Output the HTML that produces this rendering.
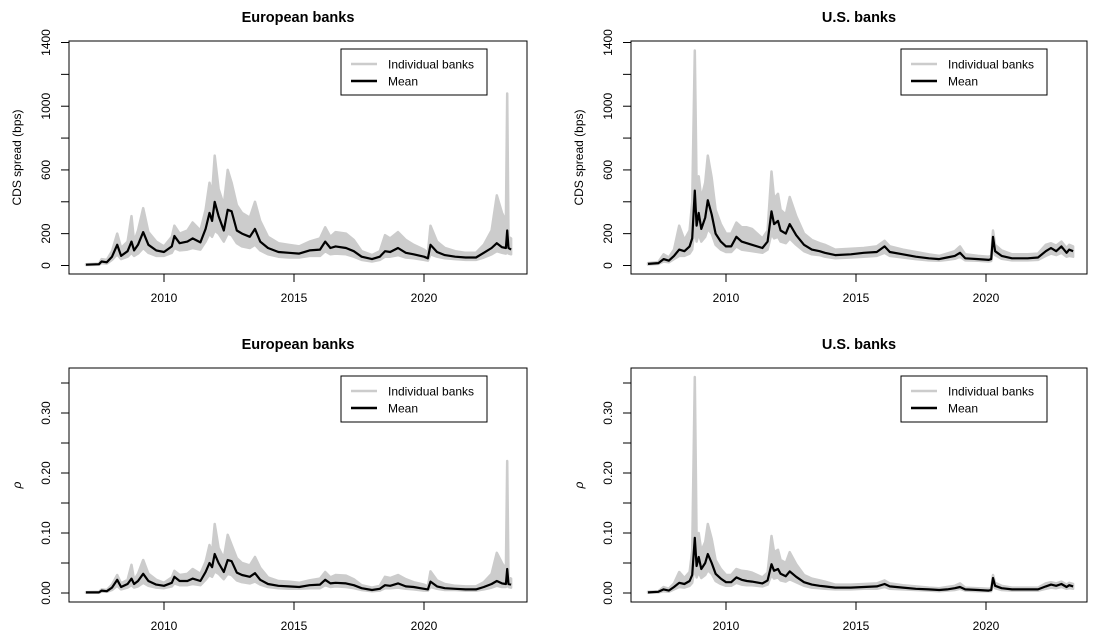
<!DOCTYPE html>
<html><head><meta charset="utf-8"><style>
body{margin:0;background:#fff;}
svg{display:block;font-family:"Liberation Sans",Arial,sans-serif;}
</style></head><body>
<svg id="chart" width="1095" height="639" viewBox="0 0 1095 639" xmlns="http://www.w3.org/2000/svg"></svg>
<script>
// ---------- European banks data ----------
const euDates = [2007.0,2007.5,2007.6,2007.8,2008.0,2008.2,2008.35,2008.6,2008.75,2008.85,2009.0,2009.2,2009.4,2009.7,2010.0,2010.3,2010.4,2010.6,2010.9,2011.1,2011.4,2011.6,2011.75,2011.85,2011.95,2012.1,2012.3,2012.45,2012.6,2012.8,2013.0,2013.3,2013.5,2013.7,2014.0,2014.4,2014.8,2015.2,2015.6,2016.0,2016.2,2016.4,2016.6,2017.0,2017.3,2017.6,2018.0,2018.3,2018.5,2018.7,2019.0,2019.3,2019.6,2020.0,2020.15,2020.25,2020.5,2020.8,2021.2,2021.6,2022.0,2022.3,2022.6,2022.8,2023.0,2023.15,2023.2,2023.25,2023.35];
const euCdsMean = [5,8,25,20,55,130,60,90,150,95,130,210,130,95,85,120,185,140,150,170,145,230,330,280,400,310,220,350,340,220,200,180,230,150,110,85,80,75,95,100,150,110,120,110,90,55,40,55,90,85,110,80,70,55,45,130,85,65,55,50,50,80,110,140,115,110,220,110,100];
const euCdsLo = [3,5,15,12,35,70,40,55,80,60,75,110,80,60,60,80,110,95,100,110,100,150,200,180,220,200,150,200,190,140,120,110,130,95,70,55,50,50,60,60,90,70,75,70,55,35,25,35,55,55,65,50,45,35,30,70,55,45,40,35,35,50,70,90,80,75,120,75,70];
const euCdsHi = [8,12,40,35,90,200,110,150,310,150,220,360,210,150,120,180,250,200,220,270,220,350,520,450,690,480,380,600,520,380,330,300,400,280,180,140,130,120,150,170,240,180,210,200,160,90,65,90,190,170,210,160,130,100,80,250,150,110,90,80,80,130,220,440,330,280,1080,180,170];
const euPMean = [0.001,0.001,0.004,0.003,0.009,0.022,0.01,0.015,0.024,0.015,0.02,0.032,0.02,0.014,0.012,0.017,0.027,0.02,0.02,0.024,0.02,0.035,0.05,0.043,0.065,0.05,0.035,0.055,0.053,0.034,0.03,0.027,0.033,0.022,0.015,0.012,0.011,0.01,0.013,0.014,0.022,0.016,0.017,0.016,0.013,0.008,0.005,0.007,0.013,0.012,0.016,0.011,0.01,0.007,0.006,0.019,0.011,0.008,0.007,0.006,0.006,0.01,0.015,0.02,0.016,0.015,0.04,0.015,0.014];
const euPLo = [0.0005,0.0006,0.002,0.002,0.005,0.012,0.006,0.009,0.013,0.009,0.011,0.017,0.012,0.009,0.008,0.011,0.016,0.013,0.013,0.015,0.013,0.022,0.03,0.027,0.036,0.032,0.023,0.032,0.03,0.021,0.018,0.016,0.019,0.014,0.01,0.008,0.007,0.007,0.008,0.008,0.013,0.01,0.011,0.01,0.008,0.005,0.003,0.004,0.008,0.008,0.009,0.007,0.006,0.004,0.004,0.01,0.007,0.005,0.005,0.004,0.004,0.006,0.009,0.012,0.01,0.01,0.02,0.01,0.009];
const euPHi = [0.0015,0.002,0.006,0.005,0.014,0.03,0.016,0.022,0.047,0.022,0.032,0.055,0.032,0.022,0.017,0.026,0.037,0.03,0.032,0.04,0.032,0.052,0.08,0.068,0.115,0.075,0.058,0.097,0.08,0.058,0.05,0.046,0.06,0.042,0.026,0.02,0.019,0.017,0.021,0.024,0.035,0.026,0.03,0.029,0.023,0.013,0.009,0.012,0.027,0.025,0.03,0.023,0.018,0.014,0.011,0.036,0.021,0.015,0.012,0.011,0.011,0.018,0.032,0.067,0.05,0.04,0.22,0.026,0.024];

// ---------- U.S. banks data ----------
const usDates = [2007.0,2007.4,2007.6,2007.8,2008.0,2008.2,2008.4,2008.6,2008.7,2008.8,2008.87,2008.95,2009.05,2009.2,2009.3,2009.45,2009.6,2009.8,2010.0,2010.2,2010.4,2010.6,2010.8,2011.0,2011.4,2011.6,2011.75,2011.85,2012.0,2012.1,2012.3,2012.45,2012.7,2013.0,2013.3,2013.6,2013.8,2014.2,2014.8,2015.3,2015.8,2016.1,2016.3,2016.8,2017.3,2017.8,2018.2,2018.5,2018.8,2019.0,2019.2,2019.7,2020.1,2020.2,2020.27,2020.35,2020.6,2021.0,2021.6,2022.0,2022.3,2022.5,2022.7,2022.9,2023.1,2023.2,2023.35];
const usCdsMean = [10,15,40,30,60,100,90,120,170,470,250,330,230,300,410,320,200,150,120,120,180,150,140,130,110,150,340,260,280,220,200,260,190,130,100,90,80,65,70,80,85,120,85,70,55,45,40,50,60,80,45,40,35,40,180,90,60,45,45,50,90,110,90,120,80,100,90];
const usCdsLo = [6,10,25,20,40,60,60,75,100,250,150,200,150,180,230,200,130,100,85,85,120,100,95,90,80,100,200,170,180,150,140,170,130,90,70,65,55,45,50,55,60,80,60,50,40,32,30,35,42,55,32,30,25,28,120,65,42,32,32,35,60,75,65,80,55,60,55];
const usCdsHi = [15,22,70,50,100,250,160,220,400,1350,500,560,420,520,690,550,350,260,200,200,270,240,240,230,170,220,590,420,450,350,320,430,310,200,160,140,130,100,105,110,120,155,120,100,85,70,60,75,90,120,70,60,55,60,220,130,95,70,70,75,130,140,125,150,110,130,120];
const usPMean = [0.001,0.002,0.006,0.004,0.01,0.017,0.015,0.02,0.03,0.092,0.045,0.06,0.04,0.05,0.065,0.05,0.032,0.024,0.018,0.018,0.026,0.022,0.02,0.019,0.016,0.021,0.048,0.037,0.04,0.032,0.028,0.036,0.027,0.018,0.014,0.012,0.011,0.009,0.009,0.01,0.011,0.015,0.011,0.009,0.007,0.006,0.005,0.006,0.008,0.01,0.006,0.005,0.004,0.005,0.025,0.012,0.008,0.006,0.006,0.006,0.011,0.014,0.012,0.015,0.01,0.013,0.011];
const usPLo = [0.0005,0.001,0.003,0.002,0.006,0.01,0.009,0.012,0.017,0.045,0.026,0.035,0.025,0.03,0.038,0.032,0.02,0.015,0.012,0.012,0.017,0.014,0.013,0.013,0.011,0.014,0.03,0.024,0.026,0.021,0.019,0.023,0.018,0.012,0.009,0.008,0.007,0.006,0.006,0.007,0.007,0.01,0.007,0.006,0.005,0.004,0.003,0.004,0.005,0.007,0.004,0.003,0.003,0.003,0.015,0.008,0.005,0.004,0.004,0.004,0.007,0.009,0.008,0.01,0.007,0.008,0.007];
const usPHi = [0.002,0.003,0.01,0.007,0.016,0.035,0.025,0.035,0.07,0.36,0.09,0.1,0.07,0.085,0.115,0.09,0.055,0.04,0.03,0.03,0.04,0.037,0.036,0.034,0.026,0.034,0.095,0.068,0.072,0.055,0.05,0.068,0.048,0.03,0.024,0.021,0.019,0.014,0.014,0.015,0.016,0.021,0.016,0.013,0.011,0.009,0.008,0.01,0.012,0.016,0.009,0.008,0.007,0.008,0.03,0.017,0.012,0.009,0.009,0.009,0.016,0.018,0.016,0.019,0.014,0.017,0.015];

// ---------- tick labels ----------
const xTicks = [2010,2015,2020];
const cdsTicks = [0,200,400,600,800,1000,1200,1400];
const cdsTickLabels = ["0","200","","600","","1000","","1400"];
const pTicks = [0,0.05,0.10,0.15,0.20,0.25,0.30,0.35];
const pTickLabels = ["0.00","","0.10","","0.20","","0.30",""];

const NS = "http://www.w3.org/2000/svg";
const svg = document.getElementById('chart');
function mk(tag, attrs, parent){
  const e = document.createElementNS(NS, tag);
  for (const k in attrs) e.setAttribute(k, attrs[k]);
  (parent||svg).appendChild(e);
  return e;
}

function panel(opt){
  const g = mk('g', {});
  
  
  const xs = t => opt.x2010 + (t - 2010) * 26;
  const ys = v => opt.y0 - v * opt.yk;
  // title
  const title = mk('text', {x:(opt.bx0+opt.bx1)/2, y:opt.by0-19, 'text-anchor':'middle', 'font-size':'14.5', 'font-weight':'bold'}, g);
  title.textContent = opt.title;
  
  
  // band
  const n = Math.min(opt.dates.length, opt.lo.length, opt.hi.length);
  let pts = [];
  for (let i=0;i<n;i++) pts.push(xs(opt.dates[i]).toFixed(1)+','+ys(opt.hi[i]).toFixed(1));
  for (let i=n-1;i>=0;i--) pts.push(xs(opt.dates[i]).toFixed(1)+','+ys(opt.lo[i]).toFixed(1));
  const band = mk('polygon', {points:pts.join(' '), fill:'#cccccc', stroke:'#cccccc', 'stroke-width':'2.5', 'stroke-linejoin':'round'}, g);
  
  
  // mean
  const m = Math.min(opt.dates.length, opt.mean.length);
  let mp = [];
  for (let i=0;i<m;i++) mp.push(xs(opt.dates[i]).toFixed(1)+','+ys(opt.mean[i]).toFixed(1));
  const ml = mk('polyline', {points:mp.join(' '), fill:'none', stroke:'#000', 'stroke-width':'2.2', 'stroke-linejoin':'round'}, g);
  
  
  // box
  const box = mk('rect', {x:opt.bx0, y:opt.by0, width:opt.bx1-opt.bx0, height:opt.by1-opt.by0, fill:'none', stroke:'#000', 'stroke-width':'1'}, g);
  
  
  // x ticks
  xTicks.forEach(t => {
    const x = xs(t);
    const tk = mk('line', {x1:x, x2:x, y1:opt.by1, y2:opt.by1+8, stroke:'#000'}, g);
    
    
    const tl = mk('text', {x:x, y:opt.by1+28, 'text-anchor':'middle', 'font-size':'12'}, g);
    tl.textContent = String(t);
    
    
  });
  // y ticks
  opt.yTicks.forEach((v,i) => {
    const y = ys(v);
    const tk = mk('line', {x1:opt.bx0-8, x2:opt.bx0, y1:y, y2:y, stroke:'#000'}, g);
    
    
    if (opt.yLabels[i]) {
      const lx = opt.bx0 - 19;
      const tl = mk('text', {x:lx, y:y, 'text-anchor':'middle', 'font-size':'12', transform:'rotate(-90 '+lx+' '+y+')'}, g);
      tl.textContent = opt.yLabels[i];
      
      
    }
  });
  // y title
  const tx = opt.bx0 - 48, ty = (opt.by0+opt.by1)/2;
  const yt = mk('text', {x:tx, y:ty, 'text-anchor':'middle', 'font-size':'12', transform:'rotate(-90 '+tx+' '+ty+')', 'font-style':opt.yItalic?'italic':'normal'}, g);
  yt.textContent = opt.yTitle;
  
  
  // legend
  const lx0 = opt.bx1 - 186, ly0 = opt.by0 + 8;
  const lg = mk('g', {}, g);
  
  
  mk('rect', {x:lx0, y:ly0, width:146, height:46, fill:'#fff', stroke:'#000'}, lg);
  mk('line', {x1:lx0+10, x2:lx0+36, y1:ly0+15, y2:ly0+15, stroke:'#cccccc', 'stroke-width':'2.5'}, lg);
  mk('line', {x1:lx0+10, x2:lx0+36, y1:ly0+32, y2:ly0+32, stroke:'#000', 'stroke-width':'2.5'}, lg);
  const t1 = mk('text', {x:lx0+47, y:ly0+19.5, 'font-size':'12'}, lg);
  t1.textContent = 'Individual banks';
  
  
  const t2 = mk('text', {x:lx0+47, y:ly0+36.5, 'font-size':'12'}, lg);
  t2.textContent = 'Mean';
  
  
}

const L = {bx0:69, bx1:527, x2010:164};
const R = {bx0:631, bx1:1087, x2010:726};
const T = {by0:41, by1:274, y0:265.5, yk:223/1400, yTicks:cdsTicks, yLabels:cdsTickLabels, yTitle:'CDS spread (bps)'};
const B = {by0:368, by1:602, y0:593, yk:600, yTicks:pTicks, yLabels:pTickLabels, yTitle:'ρ', yItalic:true};

panel(Object.assign({name:'panel-eu-cds', title:'European banks', dates:euDates, mean:euCdsMean, lo:euCdsLo, hi:euCdsHi}, L, T));
panel(Object.assign({name:'panel-us-cds', title:'U.S. banks', dates:usDates, mean:usCdsMean, lo:usCdsLo, hi:usCdsHi}, R, T));
panel(Object.assign({name:'panel-eu-rho', title:'European banks', dates:euDates, mean:euPMean, lo:euPLo, hi:euPHi}, L, B));
panel(Object.assign({name:'panel-us-rho', title:'U.S. banks', dates:usDates, mean:usPMean, lo:usPLo, hi:usPHi}, R, B));
</script>
</body></html>
